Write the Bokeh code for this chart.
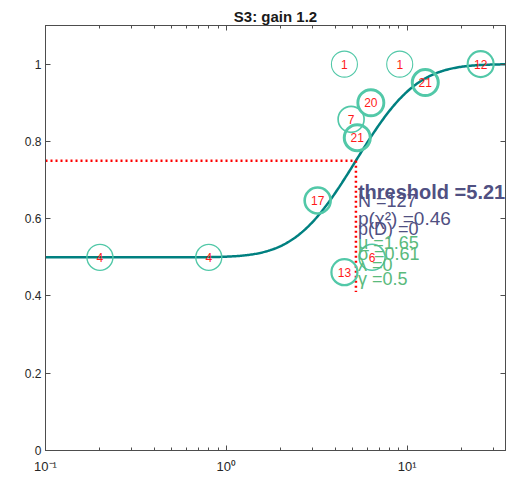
import math
import numpy as np
from bokeh.plotting import figure
from bokeh.models import (ColumnDataSource, FixedTicker, LinearAxis, LogAxis,
                          Label)
from bokeh.core.properties import value
from bokeh.embed import file_html
from bokeh.resources import INLINE

# Stimulus levels, proportion correct and number of trials per block
stim_level = [0.2, 0.8, 3.2, 4.5, 6.4, 4.9, 5.3, 6.3, 4.5, 9.1, 12.6, 25.5]
prop_correct = [0.5, 0.5, 11 / 17, 6 / 13, 3 / 6, 6 / 7, 17 / 21, 18 / 20,
                1.0, 1.0, 20 / 21, 1.0]
n_trials = [4, 4, 17, 13, 6, 7, 21, 20, 1, 1, 21, 12]

# Fitted cumulative-Gaussian parameters (in log stimulus units)
MU = 1.65
SIGMA = 0.61
LAMBDA = 0.0
GAMMA = 0.5
THRESHOLD = 5.21
PC_THRESHOLD = 0.75
THRESH_LINE_BOTTOM = 0.41
P_CHI2 = 0.46
P_DEV = 0

x_ticks = [0.1, 1, 10]
x_tick_labels = ["10\u207b\u00b9", "10\u2070", "10\u00b9"]
x_minor = [0.2, 0.3, 0.4, 0.5, 0.6, 0.7, 0.8, 0.9,
           2, 3, 4, 5, 6, 7, 8, 9, 20, 30]
y_ticks = [0, 0.2, 0.4, 0.6, 0.8, 1.0]
y_tick_labels = ["0", "0.2", "0.4", "0.6", "0.8", "1"]

FONT = "Liberation Sans"
AXIS_COLOR = "#4d4d4d"
CURVE_COLOR = "#008080"
MARKER_COLOR = "#52C8A8"
INFO_DARK = "#505082"
INFO_GREEN = "#5ABA7C"

p = figure(width=521, height=484, x_axis_type="log", x_range=(0.1, 35),
           y_range=(0, 1.1), output_backend="svg", toolbar_location=None,
           min_border_left=45, min_border_right=16, min_border_top=25,
           min_border_bottom=34, title="S3: gain 1.2")
p.title.align = "center"
p.title.text_font = FONT
p.title.text_font_size = "15px"
p.title.text_font_style = "bold"
p.title.text_color = "#1a1a1a"
p.title.offset = 0
p.title.standoff = 2
p.xgrid.visible = False
p.ygrid.visible = False
p.outline_line_color = AXIS_COLOR


def style_axis(ax, labels):
    ax.axis_line_color = AXIS_COLOR
    ax.major_tick_line_color = AXIS_COLOR
    ax.minor_tick_line_color = AXIS_COLOR
    ax.major_tick_in = 5
    ax.major_tick_out = 0
    ax.minor_tick_in = 3
    ax.minor_tick_out = 0
    ax.major_label_text_font = FONT
    ax.major_label_text_font_size = "12px"
    ax.major_label_text_color = "#262626"
    if not labels:
        ax.major_label_text_font_size = "1px"
        ax.major_label_text_alpha = 0
        ax.major_label_standoff = 0


xt = FixedTicker(ticks=x_ticks, minor_ticks=x_minor)
yt = FixedTicker(ticks=y_ticks)

p.xaxis.ticker = xt
p.xaxis.major_label_overrides = dict(zip(x_ticks, x_tick_labels))
p.yaxis.ticker = yt
p.yaxis.major_label_overrides = dict(zip(y_ticks, y_tick_labels))
style_axis(p.xaxis[0], True)
style_axis(p.yaxis[0], True)
p.xaxis.major_label_text_font_size = "13px"
p.xaxis.major_label_standoff = 8
p.yaxis.major_label_standoff = 4

top = LogAxis(ticker=FixedTicker(ticks=x_ticks, minor_ticks=x_minor))
style_axis(top, False)
p.add_layout(top, "above")
right = LinearAxis(ticker=FixedTicker(ticks=y_ticks))
style_axis(right, False)
p.add_layout(right, "right")

# Fitted psychometric function
xs = np.logspace(-1, math.log10(35), 400)
z = (np.log(xs) - MU) / SIGMA
phi = np.array([0.5 * (1 + math.erf(v / math.sqrt(2))) for v in z])
ys = GAMMA + (1 - GAMMA - LAMBDA) * phi
p.line(xs, ys, line_color=CURVE_COLOR, line_width=2.5)

# Threshold markers
p.line([0.1, THRESHOLD], [PC_THRESHOLD, PC_THRESHOLD], line_color="red",
       line_width=2.5, line_dash="2 3")
p.line([THRESHOLD, THRESHOLD], [PC_THRESHOLD, THRESH_LINE_BOTTOM],
       line_color="red", line_width=2.5, line_dash="2 3")

# Data blocks: circle outline thickness grows with trial count
src = ColumnDataSource(dict(
    x=stim_level, y=prop_correct, n=[str(v) for v in n_trials],
    lw=[1 + 2 * v / 21 for v in n_trials]))
p.scatter("x", "y", source=src, marker="circle", size=26,
          fill_color=None, line_color=MARKER_COLOR, line_width="lw")
p.text("x", "y", text="n", source=src, text_color="#ff1a1a",
       text_font=value(FONT), text_font_size="12px", text_align="center",
       text_baseline="middle")

# Fit summary
info = [
    ("threshold =%.2f" % THRESHOLD, 0.670, "20px", "bold", INFO_DARK),
    ("N =%d" % sum(n_trials), 0.647, "18px", "normal", INFO_DARK),
    ("p(\u03c7\u00b2) =%.2f" % P_CHI2, 0.600, "19px", "normal", INFO_DARK),
    ("p(D) =%d" % P_DEV, 0.574, "18px", "normal", INFO_DARK),
    ("\u03bc =%.2f" % MU, 0.538, "18px", "normal", INFO_GREEN),
    ("\u03c3 =%.2f" % SIGMA, 0.508, "18px", "normal", INFO_GREEN),
    ("\u03bb =%g" % LAMBDA, 0.479, "18px", "normal", INFO_GREEN),
    ("\u03b3 =%g" % GAMMA, 0.445, "18px", "normal", INFO_GREEN),
]
for txt, yy, fs, style, col in info:
    p.add_layout(Label(x=THRESHOLD, y=yy, x_offset=2, text=txt,
                       text_font=FONT, text_font_size=fs,
                       text_font_style=style, text_color=col,
                       text_baseline="alphabetic"))

open("out.html", "w").write(file_html(p, INLINE))
